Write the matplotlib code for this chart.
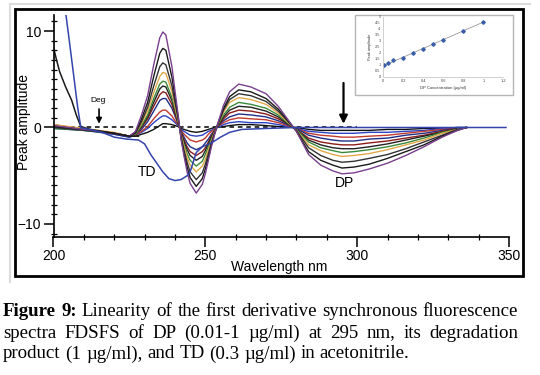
import matplotlib
matplotlib.use('Agg')
import matplotlib.pyplot as plt
from matplotlib.patches import Rectangle
from matplotlib.lines import Line2D
from matplotlib.ticker import MultipleLocator

W, H = 540, 375

# wavelength grid (nm) for the DP spectra
wl = [200, 210, 220, 225, 227, 229, 231, 233, 235, 236, 237, 239, 240, 241,
      242, 243, 244, 245, 247, 249, 250, 251, 252, 253, 254, 256, 258, 261,
      265, 270, 274, 277, 280, 284, 288, 292, 295, 299, 304, 310, 316, 322,
      328, 333, 336]

# DP spectra, highest concentration first
dp_curves = [
    [0.2, -0.2, -0.6, -0.9, -0.4, 1.3, 3.3, 6.5, 9.3, 9.9, 9.6, 6.3, 3.8, 1.4, -1.2, -3.0, -4.6, -5.8, -6.8, -5.9, -4.8, -3.4, -2.0, -0.8, 0.3, 2.3, 3.7, 4.5, 4.2, 3.5, 2.2, 0.9, -0.4, -2.8, -3.9, -4.5, -4.8, -4.7, -4.3, -3.7, -2.9, -2.0, -1.0, -0.3, 0.0],
    [0.1, -0.2, -0.6, -0.9, -0.5, 0.9, 2.6, 5.3, 7.7, 8.2, 8.0, 5.2, 3.2, 1.2, -1.1, -2.7, -4.1, -5.2, -6.1, -5.3, -4.3, -3.1, -1.8, -0.7, 0.3, 2.0, 3.2, 3.9, 3.7, 3.0, 1.9, 0.8, -0.4, -2.5, -3.4, -3.9, -4.2, -4.1, -3.8, -3.2, -2.5, -1.8, -0.9, -0.3, 0.0],
    [0.0, -0.3, -0.6, -0.9, -0.6, 0.6, 2.1, 4.3, 6.3, 6.7, 6.5, 4.3, 2.6, 1.0, -0.9, -2.4, -3.6, -4.6, -5.4, -4.7, -3.8, -2.7, -1.6, -0.6, 0.2, 1.8, 2.9, 3.5, 3.3, 2.7, 1.7, 0.7, -0.3, -2.1, -2.9, -3.4, -3.6, -3.5, -3.2, -2.8, -2.2, -1.5, -0.8, -0.2, 0.0],
    [0.3, -0.1, -0.5, -0.9, -0.6, 0.4, 1.7, 3.6, 5.3, 5.7, 5.6, 3.7, 2.2, 0.8, -0.8, -2.0, -3.1, -3.9, -4.6, -4.0, -3.3, -2.3, -1.4, -0.5, 0.2, 1.6, 2.6, 3.1, 2.9, 2.4, 1.5, 0.6, -0.3, -1.8, -2.4, -2.8, -3.0, -2.9, -2.7, -2.3, -1.8, -1.3, -0.6, -0.2, 0.0],
    [-0.1, -0.3, -0.6, -0.9, -0.7, 0.2, 1.3, 3.0, 4.5, 4.8, 4.7, 3.1, 1.9, 0.7, -0.7, -1.8, -2.7, -3.4, -4.0, -3.5, -2.8, -2.0, -1.2, -0.5, 0.2, 1.3, 2.1, 2.6, 2.4, 2.0, 1.3, 0.5, -0.2, -1.5, -2.1, -2.4, -2.6, -2.5, -2.3, -2.0, -1.6, -1.1, -0.5, -0.2, 0.0],
    [0.2, -0.2, -0.6, -0.9, -0.7, 0.1, 1.1, 2.6, 4.0, 4.3, 4.2, 2.8, 1.7, 0.6, -0.6, -1.5, -2.3, -2.9, -3.4, -3.0, -2.4, -1.7, -1.0, -0.4, 0.1, 1.1, 1.8, 2.2, 2.1, 1.7, 1.1, 0.4, -0.2, -1.3, -1.8, -2.1, -2.2, -2.2, -2.0, -1.7, -1.3, -0.9, -0.5, -0.1, 0.0],
    [0.3, -0.2, -0.6, -0.9, -0.7, 0.0, 0.9, 2.2, 3.4, 3.7, 3.6, 2.4, 1.4, 0.5, -0.5, -1.3, -2.0, -2.5, -2.9, -2.5, -2.1, -1.5, -0.9, -0.3, 0.1, 0.9, 1.5, 1.8, 1.7, 1.4, 0.9, 0.4, -0.2, -1.1, -1.5, -1.7, -1.8, -1.8, -1.6, -1.4, -1.1, -0.8, -0.4, -0.1, 0.0],
    [0.0, -0.2, -0.7, -1.0, -0.7, -0.2, 0.6, 1.7, 2.8, 3.0, 3.0, 2.0, 1.2, 0.4, -0.4, -1.0, -1.6, -2.0, -2.3, -2.0, -1.6, -1.2, -0.7, -0.3, 0.1, 0.7, 1.1, 1.4, 1.3, 1.1, 0.7, 0.3, -0.1, -0.8, -1.1, -1.3, -1.4, -1.4, -1.2, -1.1, -0.8, -0.6, -0.3, -0.1, 0.0],
    [0.2, -0.2, -0.6, -0.9, -0.8, -0.4, 0.1, 0.9, 1.6, 1.8, 1.8, 1.2, 0.7, 0.3, -0.3, -0.7, -1.0, -1.3, -1.5, -1.3, -1.1, -0.7, -0.4, -0.2, 0.1, 0.5, 0.8, 1.0, 0.9, 0.8, 0.5, 0.2, -0.1, -0.6, -0.8, -0.9, -1.0, -1.0, -0.9, -0.8, -0.6, -0.4, -0.2, -0.1, 0.0],
    [-0.1, -0.3, -0.7, -1.0, -0.8, -0.5, -0.1, 0.5, 1.0, 1.2, 1.2, 0.8, 0.5, 0.2, -0.2, -0.4, -0.6, -0.8, -0.9, -0.8, -0.6, -0.4, -0.3, -0.1, 0.0, 0.3, 0.5, 0.6, 0.5, 0.5, 0.3, 0.1, -0.1, -0.4, -0.5, -0.6, -0.6, -0.6, -0.5, -0.5, -0.4, -0.3, -0.1, 0.0, 0.0],
    [0.1, -0.2, -0.6, -0.9, -0.9, -0.7, -0.5, -0.2, 0.2, 0.4, 0.4, 0.3, 0.2, 0.1, -0.1, -0.2, -0.3, -0.4, -0.5, -0.4, -0.3, -0.2, -0.1, 0.0, 0.0, 0.1, 0.2, 0.3, 0.3, 0.2, 0.1, 0.1, 0.0, -0.2, -0.3, -0.3, -0.3, -0.3, -0.3, -0.2, -0.2, -0.1, -0.1, 0.0, 0.0],
]
dp_colors = ['#7a3f8e', '#1a1a1a', '#333333', '#e3a84a', '#3b8a3b', '#222222',
             '#8b1c1c', '#1f2f86', '#c23a2e', '#2b44c4', '#111111']

# degradation product
deg_wl = [200, 201, 202, 204, 206, 207.5, 209, 212, 216, 220, 225, 228]
deg_amp = [8.3, 7.0, 5.8, 4.2, 2.8, 1.3, 0.1, -0.2, -0.4, -0.6, -0.9, -0.9]

# TD
td_wl = [204, 205, 206, 207, 208, 209, 210, 212, 216, 220, 224, 228, 230, 232,
         234, 236, 238, 240, 242, 244, 245, 246, 247, 249, 252, 255, 258, 262,
         270, 280, 300, 349]
td_amp = [11.9, 9.5, 7.0, 4.5, 2.0, 0.0, -0.1, -0.2, -0.5, -1.0, -1.2, -1.3,
          -1.7, -2.8, -3.7, -4.6, -5.3, -5.5, -5.4, -5.0, -4.6, -3.6, -2.6,
          -2.0, -1.6, -1.0, -0.5, -0.2, -0.1, 0.0, 0.0, 0.0]

# inset calibration
conc = [0.01, 0.05, 0.1, 0.2, 0.3, 0.4, 0.5, 0.6, 0.8, 1.0]
conc_amp = [0.94, 1.17, 1.36, 1.58, 2.0, 2.33, 2.75, 3.08, 3.8, 4.53]
trend_x = [0.0, 1.0]
trend_y = [0.9, 4.55]

caption = [
    [("Figure", True), ("9:", True), ("Linearity", False), ("of", False), ("the", False),
     ("first", False), ("derivative", False), ("synchronous", False), ("fluorescence", False)],
    [("spectra", False), ("FDSFS", False), ("of", False), ("DP", False), ("(0.01-1", False),
     ("µg/ml)", False), ("at", False), ("295", False), ("nm,", False), ("its", False),
     ("degradation", False)],
    [("product", False), ("(1", False), ("µg/ml),", False), ("and", False), ("TD", False),
     ("(0.3", False), ("µg/ml)", False), ("in", False), ("acetonitrile.", False)],
]

plt.rcParams['font.family'] = ['Liberation Sans', 'DejaVu Sans']

fig = plt.figure(figsize=(5.4, 3.75), dpi=100)


def fx(x):
    return x / W


def fy(y):
    return 1 - y / H


# frames
fig.add_artist(Line2D([fx(9.5), fx(530)], [fy(3.5), fy(3.5)], color='#dcdcdc', lw=1.5))
fig.add_artist(Line2D([fx(9.5), fx(9.5)], [fy(3.5), fy(282)], color='#dcdcdc', lw=1.5))
fig.add_artist(Rectangle((fx(14.5), fy(276.3)), fx(523.3) - fx(14.5), fy(8.7) - fy(276.3),
                         fill=False, ec='black', lw=2.0))

# main axes
ax = fig.add_axes([fx(53.5), fy(237), (509 - 53.5) / W, (237 - 15) / H])
ax.set_xlim(200, 350)
ax.set_ylim(-11.35, 11.66)
ax.patch.set_alpha(0)
for s in ['top', 'right']:
    ax.spines[s].set_visible(False)
ax.spines['left'].set_linewidth(1.2)
ax.spines['bottom'].set_linewidth(1.2)

ax.plot([200, 300], [0, 0], color='black', lw=1.1, dashes=(3, 2.5))
for vals, c in zip(dp_curves[::-1], dp_colors[::-1]):
    ax.plot(wl, vals, color=c, lw=1.0)
ax.plot(deg_wl, deg_amp, color='#1a1a1a', lw=1.1)
ax.plot(td_wl, td_amp, color='#3344aa', lw=1.1)

ax.set_xticks([200, 250, 300, 350])
ax.set_yticks([-10, 0, 10])
ax.xaxis.set_minor_locator(MultipleLocator(10))
ax.yaxis.set_minor_locator(MultipleLocator(1))
ax.tick_params(axis='both', which='major', direction='out', length=7, width=1.1,
               labelsize=10, pad=2)
ax.tick_params(axis='both', which='minor', direction='inout', length=4, width=0.9)

ax.text(230.8, -4.6, 'TD', fontsize=10, ha='center', va='center')
ax.text(295.9, -5.8, 'DP', fontsize=10, ha='center', va='center')
ax.text(214.7, 2.8, 'Deg', fontsize=6, ha='center', va='center')
ax.annotate('', xy=(215, 0.1), xytext=(215, 2.2),
            arrowprops=dict(arrowstyle='-|>', color='black', lw=1.2, mutation_scale=8))
ax.annotate('', xy=(295.5, 0.1), xytext=(295.5, 4.9),
            arrowprops=dict(arrowstyle='-|>', color='black', lw=1.6, mutation_scale=12))

fig.text(fx(279), fy(267), 'Wavelength nm', fontsize=10, ha='center', va='center')
fig.text(fx(24), fy(122), 'Peak amplitude', fontsize=10, ha='center', va='center',
         rotation=90)

# inset
fig.add_artist(Rectangle((fx(355), fy(95)), fx(513) - fx(355), fy(15) - fy(95),
                         fc='white', ec='#b5b5b5', lw=1.0, zorder=1))
ins = fig.add_axes([fx(383.3), fy(76.7), (503.3 - 383.3) / W, (76.7 - 16.7) / H])
ins.set_zorder(3)
ins.set_xlim(0, 1.2)
ins.set_ylim(0, 5)
ins.patch.set_alpha(0)
for s in ['top', 'right']:
    ins.spines[s].set_visible(False)
for s in ['left', 'bottom']:
    ins.spines[s].set_color('#c8c8c8')
    ins.spines[s].set_linewidth(0.6)
ins.set_xticks([0, 0.2, 0.4, 0.6, 0.8, 1.0, 1.2])
ins.set_xticklabels(['0', '0.2', '0.4', '0.6', '0.8', '1', '1.2'])
ins.set_yticks([0, 0.5, 1, 1.5, 2, 2.5, 3, 3.5, 4, 4.5, 5])
ins.set_yticklabels(['0', '0.5', '1', '1.5', '2', '2.5', '3', '3.5', '4', '4.5', '5'])
ins.tick_params(length=0, labelsize=2.8, pad=2, colors='#444444')
ins.plot(trend_x, trend_y, color='#999999', lw=0.6)
ins.plot(conc, conc_amp, 'D', color='#3b5ea8', ms=1.8)
ins.set_xlabel('DP Concentration (µg/ml)', fontsize=3, labelpad=1.5, color='#333333')
ins.set_ylabel('Peak amplitude', fontsize=2.8, labelpad=2, color='#333333')

# caption, justified like the journal page
renderer = fig.canvas.get_renderer()
probe = fig.text(0, 0, ' '.join(w for w, b in caption[2]), fontsize=12,
                 family='Liberation Serif')
cap_size = 12 * 405 / probe.get_window_extent(renderer).width
probe.remove()
sp = fig.text(0, 0, 'a a', fontsize=cap_size, family='Liberation Serif')
sp2 = fig.text(0, 0, 'aa', fontsize=cap_size, family='Liberation Serif')
space_w = sp.get_window_extent(renderer).width - sp2.get_window_extent(renderer).width
sp.remove()
sp2.remove()

baselines = [316.5, 337.5, 358.5]
x0, x1 = 3.0, 518.0
for i, (words, yb) in enumerate(zip(caption, baselines)):
    texts = []
    for w, bold in words:
        t = fig.text(0, fy(yb), w, fontsize=cap_size, family='Liberation Serif',
                     weight='bold' if bold else 'normal', va='baseline', ha='left')
        texts.append(t)
    widths = [t.get_window_extent(renderer).width for t in texts]
    if i < 2:
        gap = (x1 - x0 - sum(widths)) / (len(words) - 1)
    else:
        gap = space_w
    x = x0
    for t, wd in zip(texts, widths):
        t.set_x(fx(x))
        x += wd + gap

fig.savefig('out.png', dpi=100)
